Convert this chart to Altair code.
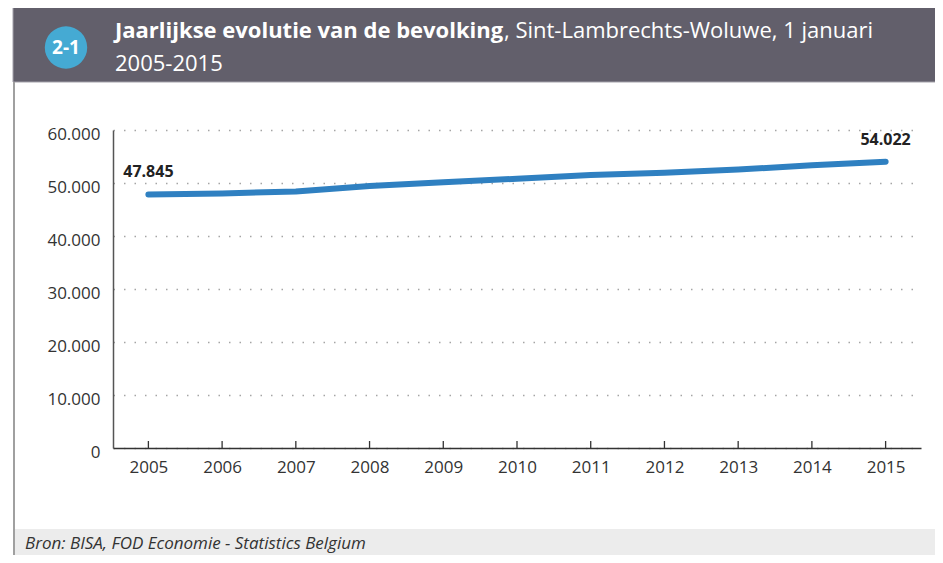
import altair as alt
import pandas as pd

years = [2005, 2006, 2007, 2008, 2009, 2010, 2011, 2012, 2013, 2014, 2015]
population = [47845, 48030, 48400, 49420, 50150, 50810, 51500, 51940, 52530, 53350, 54022]
y_ticks = [0, 10000, 20000, 30000, 40000, 50000, 60000]

title_bold = "Jaarlijkse evolutie van de bevolking"
title_rest = ", Sint-Lambrechts-Woluwe, 1 januari"
title_line2 = "2005-2015"
badge = "2-1"
source = "Bron: BISA, FOD Economie - Statistics Belgium"

FONT = "Open Sans"
W, H = 808, 318

df = pd.DataFrame({"year": [str(y) for y in years], "pop": population})

x_enc = alt.X(
    "year:O",
    sort=None,
    scale=alt.Scale(type="point", padding=0.48),
    axis=alt.Axis(
        title=None, labelAngle=0, ticks=False, domainColor="#333333", domainWidth=1.5,
        labelFont=FONT, labelFontSize=17, labelColor="#333333", labelPadding=11, grid=False,
    ),
)
y_enc = alt.Y(
    "pop:Q",
    scale=alt.Scale(domain=[0, 60000], nice=False),
    axis=alt.Axis(
        title=None, values=y_ticks, ticks=False, domainColor="#555555", domainWidth=1.5,
        labelFont=FONT, labelFontSize=17, labelColor="#333333", labelPadding=13,
        labelOffset=4,
        labelExpr="replace(format(datum.value, ',d'), ',', '.')",
        grid=True, gridDash=[1.5, 9], gridColor="#a5a5a5", gridWidth=1.3,
    ),
)

base = alt.Chart(df)

line = base.mark_line(color="#2f80c1", strokeWidth=6, strokeCap="round", strokeJoin="round").encode(
    x=x_enc, y=y_enc
)

ticks = base.mark_rule(color="#333333", strokeWidth=1.3).encode(
    x="year:O", y=alt.value(H - 7), y2=alt.value(H)
)

labels = (
    base.transform_filter("datum.year == '2005' || datum.year == '2015'")
    .transform_calculate(lbl="replace(format(datum.pop, ',d'), ',', '.')")
    .mark_text(font=FONT, fontSize=16, fontWeight="bold", color="#222222", dy=-22, align="center")
    .encode(x="year:O", y="pop:Q", text="lbl:N")
)

one = pd.DataFrame({"a": [0]})
deco = alt.Chart(one)

header = deco.mark_rect(color="#625f6b", stroke="#a3a1aa", strokeWidth=1).encode(
    x=alt.value(-100), x2=alt.value(840), y=alt.value(-123), y2=alt.value(-48)
)
left_border = deco.mark_rule(color="#a0a0a0", strokeWidth=2).encode(
    x=alt.value(-99), y=alt.value(-48), y2=alt.value(440)
)
footer = deco.mark_rect(color="#ececec").encode(
    x=alt.value(-98), x2=alt.value(840), y=alt.value(399), y2=alt.value(440)
)
footer_text = deco.mark_text(
    text=source, font=FONT, fontSize=17, fontStyle="italic", color="#333333", align="left", baseline="alphabetic"
).encode(x=alt.value(-88), y=alt.value(419))

circle = deco.mark_circle(color="#45aad3", opacity=1, size=1800).encode(
    x=alt.value(-47), y=alt.value(-82.5)
)
badge_text = deco.mark_text(
    text=badge, font=FONT, fontSize=19, fontWeight="bold", color="white", align="center", baseline="middle"
).encode(x=alt.value(-47), y=alt.value(-82))

t1 = deco.mark_text(
    text=title_bold, font=FONT, fontSize=22, fontWeight="bold", color="white", align="left", baseline="alphabetic"
).encode(x=alt.value(2), y=alt.value(-92))
t2 = deco.mark_text(
    text=title_rest, font=FONT, fontSize=22, color="white", align="left", baseline="alphabetic"
).encode(x=alt.value(391), y=alt.value(-92))
t3 = deco.mark_text(
    text=title_line2, font=FONT, fontSize=22, color="white", align="left", baseline="alphabetic"
).encode(x=alt.value(2), y=alt.value(-59))

chart = (
    alt.layer(header, left_border, footer, footer_text, circle, badge_text, t1, t2, t3, line, ticks, labels)
    .properties(
        width=W, height=H,
        autosize=alt.AutoSizeParams(type="none"),
        padding={"left": 105, "top": 122, "right": 14, "bottom": 107},
        background="white",
    )
    .configure_view(stroke=None)
)

chart.save("out.html", embed_options={"renderer": "svg", "actions": False})
